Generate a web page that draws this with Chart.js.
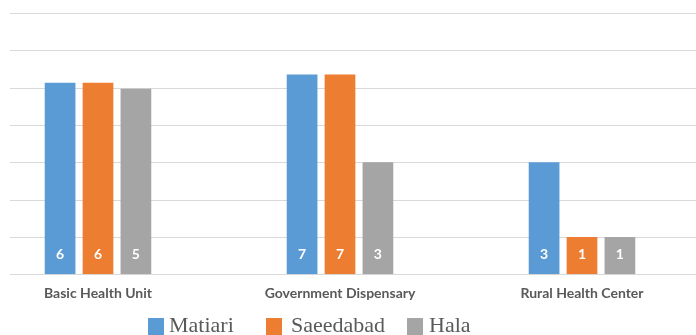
<!DOCTYPE html>
<html>
<head>
<meta charset="utf-8">
<script src="https://cdn.jsdelivr.net/npm/chart.js@4/dist/chart.umd.min.js"></script>
<style>
  html, body { margin: 0; padding: 0; background: #fff; overflow: hidden; }
  body { width: 696px; height: 335px; position: relative; }
  #wrap { position: absolute; left: -23px; top: 0; width: 726px; height: 322px; }
  .key { position: absolute; top: 318px; width: 16px; height: 17px; }
  .lbl { position: absolute; top: 314px; font: 22px/22px "Liberation Serif", "Times New Roman", serif; color: #595959; white-space: nowrap; }
</style>
</head>
<body>
<div id="wrap"><canvas id="myChart"></canvas></div>
<div id="legend"></div>
<script>
// categories and series
const categories = ['Basic Health Unit', 'Government Dispensary', 'Rural Health Center'];
const seriesNames = ['Matiari', 'Saeedabad', 'Hala'];
const seriesColors = ['#5B9BD5', '#ED7D31', '#A5A5A5'];

// bar heights as drawn in the picture (axis units)
const matiariHeights = [5.13, 5.35, 3];
const saeedabadHeights = [5.13, 5.35, 1];
const halaHeights = [4.97, 3, 1];

// the numbers printed inside the bars
const matiariLabels = ['6', '7', '3'];
const saeedabadLabels = ['6', '7', '1'];
const halaLabels = ['5', '3', '1'];

const heights = [matiariHeights, saeedabadHeights, halaHeights];
const valueLabels = [matiariLabels, saeedabadLabels, halaLabels];

// gridlines, starting a bit inside the page like the original
const gridPlugin = {
  id: 'grid',
  beforeDatasetsDraw(chart) {
    const { ctx, chartArea: { right }, scales: { y } } = chart;
    ctx.save();
    ctx.strokeStyle = '#d9d9d9';
    ctx.lineWidth = 1.2;
    y.ticks.forEach((t) => {
      const yPos = Math.round(y.getPixelForValue(t.value)) + 0.5;
      ctx.beginPath();
      ctx.moveTo(33, yPos);
      ctx.lineTo(right, yPos);
      ctx.stroke();
    });
    ctx.restore();
  },
};

// value labels near the foot of each bar
const valuePlugin = {
  id: 'values',
  afterDatasetsDraw(chart) {
    const { ctx, scales: { y } } = chart;
    ctx.save();
    ctx.fillStyle = '#ffffff';
    ctx.font = 'bold 14px Lato, "Liberation Sans", sans-serif';
    ctx.textAlign = 'center';
    ctx.textBaseline = 'middle';
    chart.data.datasets.forEach((ds, i) => {
      chart.getDatasetMeta(i).data.forEach((bar, j) => {
        ctx.fillText(valueLabels[i][j], bar.x, y.bottom - 20);
      });
    });
    ctx.restore();
  },
};

const config = {
  type: 'bar',
  data: {
    labels: categories,
    datasets: seriesNames.map((name, i) => ({
      label: name,
      data: heights[i],
      backgroundColor: seriesColors[i],
      categoryPercentage: 0.47,
      barPercentage: 0.81,
    })),
  },
  options: {
    responsive: true,
    maintainAspectRatio: false,
    animation: false,
    layout: { padding: { top: 13, bottom: 9, left: 0, right: 0 } },
    plugins: {
      legend: { display: false },
      tooltip: { enabled: false },
      title: { display: false },
    },
    scales: {
      x: {
        grid: { display: false, drawTicks: false },
        border: { display: false },
        ticks: {
          padding: 11,
          color: '#595959',
          font: { family: 'Lato, "Liberation Sans", sans-serif', size: 14, weight: 'bold' },
        },
      },
      y: {
        min: 0,
        max: 7,
        ticks: { display: false, stepSize: 1 },
        grid: { display: false, drawTicks: false },
        border: { display: false },
      },
    },
  },
  plugins: [gridPlugin, valuePlugin],
};

new Chart(document.getElementById('myChart'), config);

// legend below the chart
const legendPos = [
  { key: 148, text: 169 },
  { key: 266, text: 291 },
  { key: 407, text: 429 },
];
const legend = document.getElementById('legend');
seriesNames.forEach((name, i) => {
  const k = document.createElement('div');
  k.className = 'key';
  k.style.left = legendPos[i].key + 'px';
  k.style.background = seriesColors[i];
  legend.appendChild(k);
  const t = document.createElement('div');
  t.className = 'lbl';
  t.style.left = legendPos[i].text + 'px';
  t.textContent = name;
  legend.appendChild(t);
});
</script>
</body>
</html>
